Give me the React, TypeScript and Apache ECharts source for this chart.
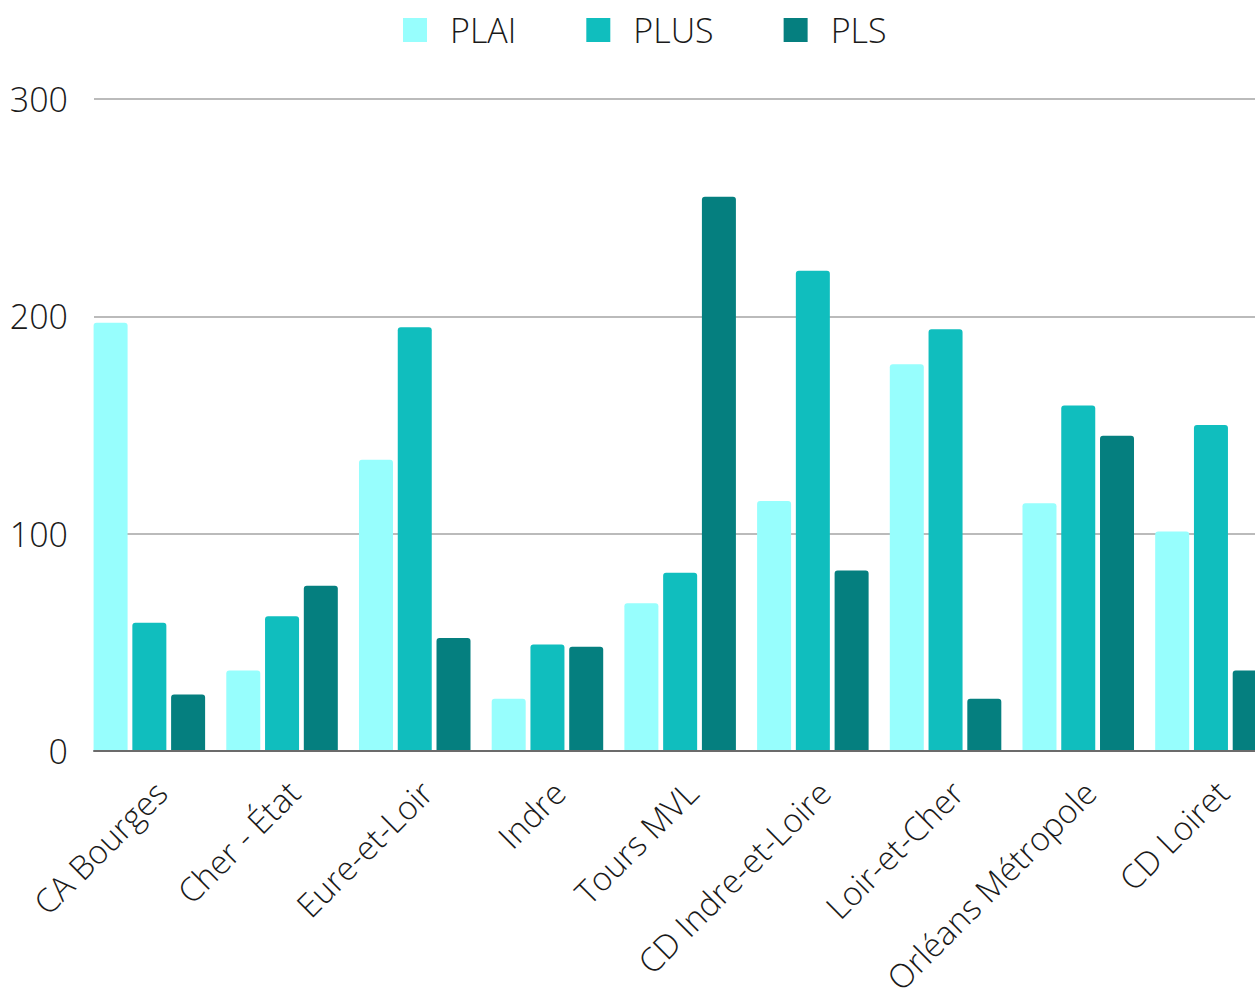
import React, { useEffect, useRef } from "react";
import * as echarts from "echarts";

const categories = [
  "CA Bourges",
  "Cher - État",
  "Eure-et-Loir",
  "Indre",
  "Tours MVL",
  "CD Indre-et-Loire",
  "Loir-et-Cher",
  "Orléans Métropole",
  "CD Loiret",
];
const plai = [197, 37, 134, 24, 68, 115, 178, 114, 101];
const plus = [59, 62, 195, 49, 82, 221, 194, 159, 150];
const pls = [26, 76, 52, 48, 255, 83, 24, 145, 37];
const seriesNames = ["PLAI", "PLUS", "PLS"];
const colors = ["#97FEFD", "#10BEBE", "#057F7F"];
const yTicks = { min: 0, max: 300, interval: 100 };

const FONT = "'Open Sans', 'Noto Sans', sans-serif";

export default function App() {
  const ref = useRef<HTMLDivElement>(null);
  useEffect(() => {
    if (!ref.current) return;
    const chart = echarts.init(ref.current, undefined, { renderer: "svg" });
    const values = [plai, plus, pls];
    chart.setOption({
      animation: false,
      textStyle: { fontFamily: FONT, fontWeight: 300 },
      legend: {
        left: 403,
        top: 13,
        padding: 0,
        itemWidth: 24,
        itemHeight: 24,
        itemGap: 70,
        icon: "rect",
        data: seriesNames,
        textStyle: { fontSize: 34, color: "#1a1a1a", fontFamily: FONT, fontWeight: 300, padding: [0, 0, 0, 18] },
      },
      grid: [
        { left: 94, top: 99, right: 0, height: 652, containLabel: false, outerBoundsMode: "none" },
        { left: 83, top: 99, width: 9 * 132.7, height: 652, containLabel: false, outerBoundsMode: "none" },
      ],
      xAxis: [
        {
          type: "category",
          gridIndex: 0,
          data: categories,
          axisLabel: { show: false },
          axisTick: { show: false },
          axisLine: { show: true, lineStyle: { color: "#6b6b6b", width: 2 } },
          z: 5,
        },
        {
          type: "category",
          gridIndex: 1,
          data: categories,
          axisTick: { show: false },
          axisLine: { show: false },
          axisLabel: {
            rotate: 45,
            margin: 24,
            fontSize: 33,
            color: "#1a1a1a",
            fontFamily: FONT,
            fontWeight: 300,
            interval: 0,
            verticalAlign: "top",
            hideOverlap: false,
          },
        },
      ],
      yAxis: [
        {
          type: "value",
          gridIndex: 0,
          ...yTicks,
          axisLine: { show: false },
          axisTick: { show: false },
          axisLabel: {
            fontSize: 34,
            color: "#1a1a1a",
            margin: 26,
            fontFamily: FONT,
            fontWeight: 300,
            padding: [0, 0, 5, 0],
          },
          splitLine: { lineStyle: { color: "#bbbbbb", width: 2 } },
        },
        {
          type: "value",
          gridIndex: 1,
          ...yTicks,
          show: false,
          splitLine: { show: false },
        },
      ],
      series: seriesNames.map((name, i) => ({
        name,
        type: "bar",
        xAxisIndex: 1,
        yAxisIndex: 1,
        data: values[i],
        barWidth: 34,
        barGap: "14%",
        itemStyle: { color: colors[i], borderRadius: [3, 3, 0, 0] },
      })),
    });
    return () => chart.dispose();
  }, []);
  return (
    <div style={{ position: "fixed", left: 0, top: 0, width: 1255, height: 990, overflow: "hidden", background: "#fff" }}>
      <div ref={ref} style={{ width: 1300, height: 990 }} />
    </div>
  );
}
